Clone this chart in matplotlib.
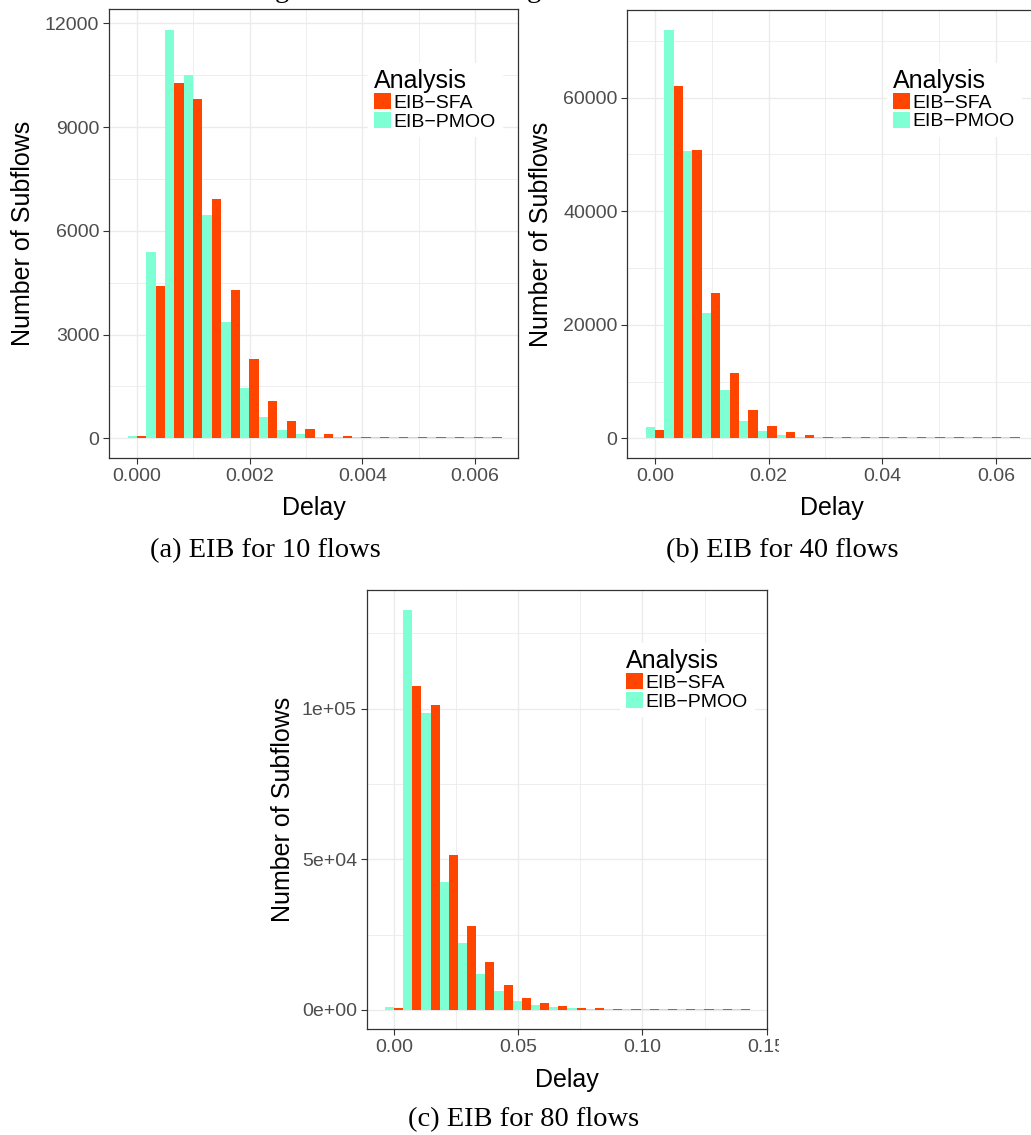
"""
EIB delay histograms: EIB-SFA vs EIB-PMOO for 10, 40 and 80 flows.
Three ggplot-style panels (theme_bw look) with LaTeX-like sub-captions.
"""

# %% Imports

import numpy as np
import matplotlib

matplotlib.use("Agg")
import matplotlib.pyplot as plt
from matplotlib.patches import Rectangle
from matplotlib.ticker import MultipleLocator

# %% Data (counts per delay bin)

n_bins = 20
bin_width_a = 0.000332
bin_width_b = 0.00329
bin_width_c = 0.00735

pmoo_a = [70, 5390, 11810, 10510, 6460, 3360, 1465, 630, 240, 125,
          48, 38, 36, 35, 34, 33, 33, 32, 32, 32]
sfa_a = [60, 4390, 10280, 9810, 6920, 4290, 2295, 1080, 500, 270,
         125, 77, 50, 44, 40, 38, 37, 36, 36, 35]

pmoo_b = [2000, 71900, 50600, 22100, 8500, 3050, 1290, 590, 260, 210,
          210, 205, 200, 200, 195, 195, 190, 190, 190, 190]
sfa_b = [1470, 62050, 50780, 25600, 11500, 4990, 2170, 1115, 590, 300,
         250, 240, 235, 230, 225, 225, 220, 220, 220, 215]

pmoo_c = [1000, 132700, 98600, 42500, 22200, 11950, 6300, 3000, 1660, 1000,
          660, 460, 440, 430, 430, 420, 420, 420, 410, 410]
sfa_c = [550, 107500, 101200, 51400, 27900, 15900, 8300, 3980, 2320, 1330,
         660, 520, 470, 460, 450, 440, 440, 430, 430, 430]

xticks_a = [0.0, 0.002, 0.004, 0.006]
xticklabels_a = ["0.000", "0.002", "0.004", "0.006"]
yticks_a = [0, 3000, 6000, 9000, 12000]
yticklabels_a = ["0", "3000", "6000", "9000", "12000"]

xticks_b = [0.0, 0.02, 0.04, 0.06]
xticklabels_b = ["0.00", "0.02", "0.04", "0.06"]
yticks_b = [0, 20000, 40000, 60000]
yticklabels_b = ["0", "20000", "40000", "60000"]

xticks_c = [0.0, 0.05, 0.10, 0.15]
xticklabels_c = ["0.00", "0.05", "0.10", "0.15"]
yticks_c = [0, 50000, 100000]
yticklabels_c = ["0e+00", "5e+04", "1e+05"]

series_labels = ["EIB\u2212SFA", "EIB\u2212PMOO"]
captions = ["(a) EIB for 10 flows", "(b) EIB for 40 flows", "(c) EIB for 80 flows"]

# %% Style

W, H = 1031, 1135
SFA_COLOR = "#FF4500"
PMOO_COLOR = "#7FFFD4"
GRID_COLOR = "#EBEBEB"
SANS = "Liberation Sans"
SERIF = "Liberation Serif"

plt.rcParams["font.family"] = [SANS, "DejaVu Sans"]


def px_box(left, top, right, bottom):
    """Pixel box (top-left origin) -> figure fraction [l, b, w, h]."""
    return [left / W, 1 - bottom / H, (right - left) / W, (bottom - top) / H]


# %% Plotting


def draw_panel(ax, pmoo, sfa, bin_width, xlim, ylim, xticks, xticklabels,
               yticks, yticklabels, xminor, yminor, legend_anchor,
               xlabel_y, ylabel_x):
    """One dodged histogram panel in a theme_bw look."""
    centers = np.arange(n_bins) * bin_width
    half = bin_width / 2
    h_sfa = ax.bar(centers + half / 2, sfa, width=half, color=SFA_COLOR,
                   linewidth=0, zorder=3, label=series_labels[0])
    h_pmoo = ax.bar(centers - half / 2, pmoo, width=half, color=PMOO_COLOR,
                    linewidth=0, zorder=3, label=series_labels[1])

    ax.set_xlim(*xlim)
    ax.set_ylim(*ylim)
    ax.set_xticks(xticks)
    ax.set_xticklabels(xticklabels)
    ax.set_yticks(yticks)
    ax.set_yticklabels(yticklabels)
    ax.xaxis.set_minor_locator(MultipleLocator(xminor))
    ax.yaxis.set_minor_locator(MultipleLocator(yminor))

    ax.grid(True, which="major", color=GRID_COLOR, linewidth=1.0, zorder=0)
    ax.grid(True, which="minor", color=GRID_COLOR, linewidth=0.6, zorder=0)
    ax.set_axisbelow(True)
    ax.tick_params(which="major", length=4, width=0.8, color="#333333",
                   labelsize=14, labelcolor="#4D4D4D", pad=3)
    ax.tick_params(which="minor", length=0)
    for spine in ax.spines.values():
        spine.set_color("#333333")
        spine.set_linewidth(0.9)

    ax.set_xlabel("Delay", fontsize=18)
    ax.set_ylabel("Number of Subflows", fontsize=18)
    ax.xaxis.set_label_coords(0.5, xlabel_y)
    ax.yaxis.set_label_coords(ylabel_x, 0.5)

    leg = ax.legend(handles=[h_sfa, h_pmoo], title="Analysis", loc="upper left",
                    bbox_to_anchor=legend_anchor, borderaxespad=0,
                    fontsize=14, title_fontsize=18, alignment="left",
                    handlelength=0.875, handleheight=0.9, handletextpad=0.15,
                    labelspacing=0.0, borderpad=0.3, fancybox=False,
                    frameon=True, framealpha=1, facecolor="white",
                    edgecolor="white")
    leg.set_zorder(5)


def main():
    fig = plt.figure(figsize=(W / 100, H / 100), dpi=100)

    ax_a = fig.add_axes(px_box(109, 9.3, 518, 458.3))
    draw_panel(ax_a, pmoo_a, sfa_a, bin_width_a,
               xlim=(-0.000497, 0.006763), ylim=(-578, 12405),
               xticks=xticks_a, xticklabels=xticklabels_a,
               yticks=yticks_a, yticklabels=yticklabels_a,
               xminor=0.001, yminor=1500, legend_anchor=(0.633, 0.880),
               xlabel_y=-0.084, ylabel_x=-0.181)

    ax_b = fig.add_axes(px_box(627.3, 10, 1036, 458.3))
    draw_panel(ax_b, pmoo_b, sfa_b, bin_width_b,
               xlim=(-0.004874, 0.06704), ylim=(-3523, 75447),
               xticks=xticks_b, xticklabels=xticklabels_b,
               yticks=yticks_b, yticklabels=yticklabels_b,
               xminor=0.01, yminor=10000, legend_anchor=(0.635, 0.882),
               xlabel_y=-0.084, ylabel_x=-0.182)

    ax_c = fig.add_axes(px_box(366.7, 590, 767.3, 1029.3))
    draw_panel(ax_c, pmoo_c, sfa_c, bin_width_c,
               xlim=(-0.01099, 0.15024), ylim=(-6406, 139396),
               xticks=xticks_c, xticklabels=xticklabels_c,
               yticks=yticks_c, yticklabels=yticklabels_c,
               xminor=0.025, yminor=25000, legend_anchor=(0.632, 0.879),
               xlabel_y=-0.088, ylabel_x=-0.179)

    # sub-captions
    fig.text(265 / W, 1 - 551 / H, captions[0], family=SERIF, fontsize=20.5,
             ha="center", va="center")
    fig.text(782 / W, 1 - 551 / H, captions[1], family=SERIF, fontsize=20.5,
             ha="center", va="center")
    fig.text(524 / W, 1 - 1120 / H, captions[2], family=SERIF, fontsize=20.5,
             ha="center", va="center")

    # descenders of the caption line above, cut by the page crop
    for gx in (282, 534):
        fig.text(gx / W, 1 + 3 / H, "g", family=SERIF, fontsize=20.5,
                 ha="center", va="baseline")

    # the bottom panel was cropped right after its last tick label
    fig.add_artist(Rectangle((779 / W, 1 - 1062 / H), 252 / W, 30 / H,
                             transform=fig.transFigure, facecolor="white",
                             edgecolor="none", zorder=10))

    fig.savefig("out.png", dpi=100)
    plt.close(fig)


if __name__ == "__main__":
    main()
